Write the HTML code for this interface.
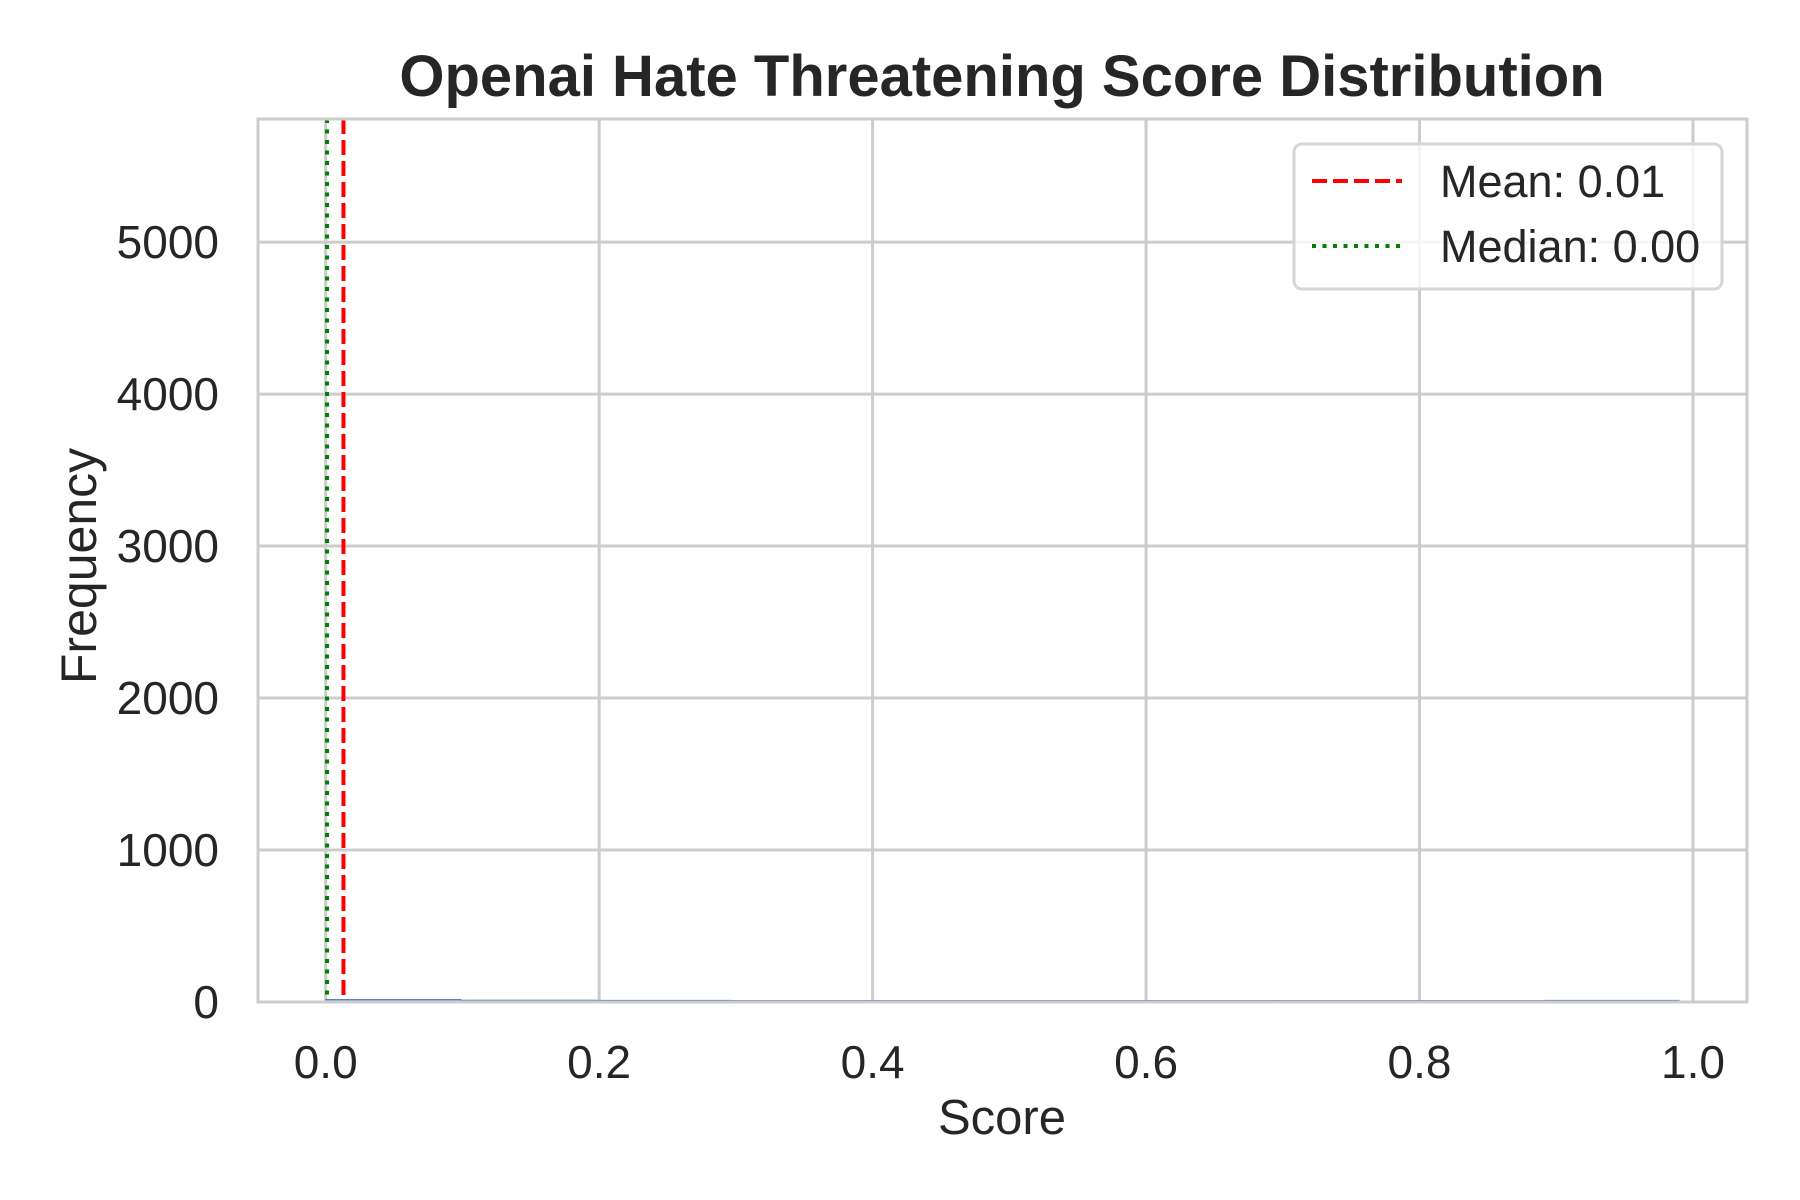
<!DOCTYPE html>
<html><head><meta charset="utf-8"><style>
html,body{margin:0;padding:0;background:#fff}
svg{display:block}
text{font-family:"Liberation Sans",Arial,sans-serif;fill:#262626}
</style></head><body>
<svg id="chart" width="1800" height="1200" viewBox="0 0 1800 1200">
<rect width="1800" height="1200" fill="#fff"/>
<g id="grid"></g>
<g id="bars"></g>
<g id="refs"></g>
<rect x="258" y="119" width="1489" height="883" fill="none" stroke="#cccccc" stroke-width="3"/>
<g id="xticks"></g>
<g id="yticks"></g>
<text x="1002" y="96" text-anchor="middle" font-size="58" font-weight="bold">Openai Hate Threatening Score Distribution</text>
<text x="1002" y="1134" text-anchor="middle" font-size="49">Score</text>
<text x="96" y="566" text-anchor="middle" font-size="50" transform="rotate(-90 96 566)">Frequency</text>
<g>
<rect x="1294" y="144" width="428" height="145" rx="8" fill="#fff" fill-opacity="0.8" stroke="#d6d6d6" stroke-width="3"/>
<line x1="1312" y1="181" x2="1402" y2="181" stroke="#ff0000" stroke-width="4" stroke-dasharray="15,6"/>
<text x="1440" y="197" font-size="45">Mean: 0.01</text>
<line x1="1312" y1="246" x2="1402" y2="246" stroke="#008000" stroke-width="4" stroke-dasharray="4,6.5"/>
<text x="1440" y="262" font-size="45">Median: 0.00</text>
</g>
</svg>
<script>
const binEdgesStart = [0.0, 0.099, 0.198, 0.297, 0.396, 0.495, 0.594, 0.693, 0.792, 0.891];
const binCounts = [8, 3, 2, 1, 1, 1, 1, 1, 1, 2];
const binWidth = 0.099;
const meanValue = 0.013;
const medianValue = 0.001;
const xTicks = [0.0, 0.2, 0.4, 0.6, 0.8, 1.0];
const xTickLabels = ["0.0","0.2","0.4","0.6","0.8","1.0"];
const yTicks = [0, 1000, 2000, 3000, 4000, 5000];
const yTickLabels = ["0","1000","2000","3000","4000","5000"];

const X0=258,X1=1747,Y0=1002,Y1=119;
const xmin=-0.0495,xmax=1.0395,ymin=0,ymax=5810;
const sx=v=>X0+(v-xmin)/(xmax-xmin)*(X1-X0);
const sy=v=>Y0-(v-ymin)/(ymax-ymin)*(Y0-Y1);
const NS='http://www.w3.org/2000/svg';
function mk(tag,attrs,parent){const e=document.createElementNS(NS,tag);for(const k in attrs)e.setAttribute(k,attrs[k]);parent.appendChild(e);return e;}
const grid=document.getElementById('grid'),bars=document.getElementById('bars'),refs=document.getElementById('refs');
const xt=document.getElementById('xticks'),yt=document.getElementById('yticks');
xTicks.forEach((t,i)=>{
  const l=mk('line',{x1:sx(t),x2:sx(t),y1:Y1,y2:Y0,stroke:'#cccccc','stroke-width':3},grid);
  
  
  const tx=mk('text',{x:sx(t),y:1078,'text-anchor':'middle','font-size':46},xt);
  tx.textContent=xTickLabels[i];
  
  
});
yTicks.forEach((t,i)=>{
  const l=mk('line',{x1:X0,x2:X1,y1:sy(t),y2:sy(t),stroke:'#cccccc','stroke-width':3},grid);
  
  
  const tx=mk('text',{x:219,y:sy(t)+16,'text-anchor':'end','font-size':46},yt);
  tx.textContent=yTickLabels[i];
  
  
});
binEdgesStart.forEach((b,i)=>{
  const y=sy(binCounts[i]);
  const r=mk('rect',{x:sx(b),y:y-1.5,width:sx(b+binWidth)-sx(b),height:Math.max(Y0-y,0)+1.5,fill:'#4c72b0','fill-opacity':0.75,stroke:'#4c72b0','stroke-width':0.6},bars);
  
  
});
const m=mk('line',{x1:sx(meanValue),x2:sx(meanValue),y1:Y1,y2:Y0,stroke:'#ff0000','stroke-width':4,'stroke-dasharray':'15,6'},refs);


const md=mk('line',{x1:sx(medianValue),x2:sx(medianValue),y1:Y1,y2:Y0,stroke:'#008000','stroke-width':4,'stroke-dasharray':'4,6.5'},refs);


</script>
</body></html>
